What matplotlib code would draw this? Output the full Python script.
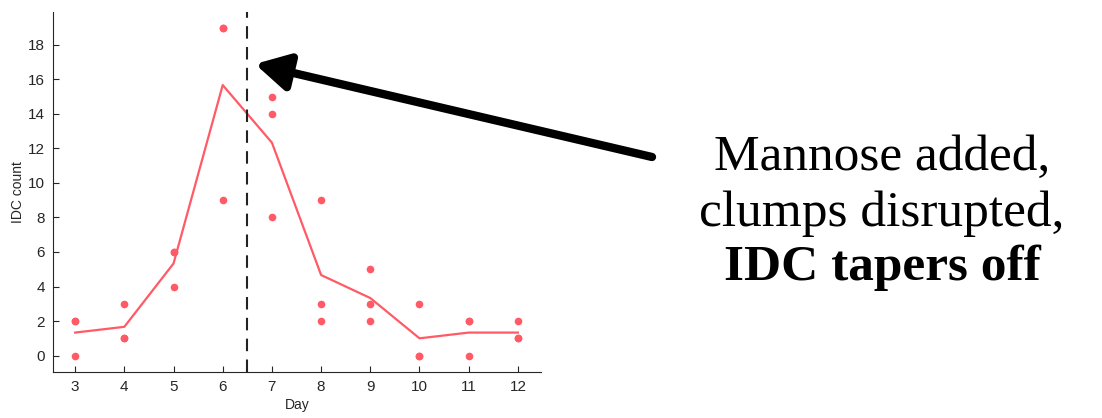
import matplotlib
matplotlib.use('Agg')
import matplotlib.pyplot as plt
import numpy as np

# replicate counts per day
days = [3, 4, 5, 6, 7, 8, 9, 10, 11, 12]
rep1 = [0, 1, 4, 9, 8, 2, 2, 0, 0, 1]
rep2 = [2, 1, 6, 19, 14, 3, 3, 0, 2, 1]
rep3 = [2, 3, 6, 19, 15, 9, 5, 3, 2, 2]
mannose_day = 6.5
note_lines = ['Mannose added,', 'clumps disrupted,', 'IDC tapers off']

red = '#ff5a66'
fig = plt.figure(figsize=(11.02, 4.18), dpi=100)
ax = fig.add_axes([53/1102, 1 - 372/418, 488/1102, 360/418])

for r in [rep1, rep2, rep3]:
    ax.plot(days, r, 'o', color=red, markersize=5.5, markeredgewidth=0)
mean = np.mean([rep1, rep2, rep3], axis=0)
ax.plot(days, mean, '-', color=red, linewidth=1.6)
ax.axvline(mannose_day, color='#222222', linestyle=(0, (6, 4)), linewidth=1.5)

ax.set_xlim(2.55, 12.47)
ax.set_ylim(-0.95, 19.9)
ax.set_xticks(days)
ax.set_yticks(range(0, 19, 2))
for s in ['top', 'right']:
    ax.spines[s].set_visible(False)
for s in ['left', 'bottom']:
    ax.spines[s].set_color('#262626')
    ax.spines[s].set_linewidth(0.8)
ax.tick_params(direction='in', length=4, labelsize=11, colors='#262626', width=0.8, pad=6)
for lab in ax.get_xticklabels() + ax.get_yticklabels():
    lab.set_family('Liberation Sans')
ax.set_xlabel('Day', fontsize=10, color='#262626', labelpad=3, family='Liberation Sans')
ax.set_ylabel('IDC count', fontsize=10, color='#262626', labelpad=2, family='Liberation Sans')

fig.patches.append(matplotlib.patches.FancyArrowPatch(
    (652/1102, 1 - 157/418), (255/1102, 1 - 64/418),
    transform=fig.transFigure, arrowstyle='-|>,head_length=1.0,head_width=0.55',
    mutation_scale=20, color='black', linewidth=6, shrinkA=0, shrinkB=0))

ys = [158, 214, 268]
for i, line in enumerate(note_lines):
    fig.text(882/1102, 1 - ys[i]/418, line, ha='center', va='center',
             fontsize=37, family='Liberation Serif',
             fontweight='bold' if i == 2 else 'normal')

fig.savefig('out.png', dpi=100)
